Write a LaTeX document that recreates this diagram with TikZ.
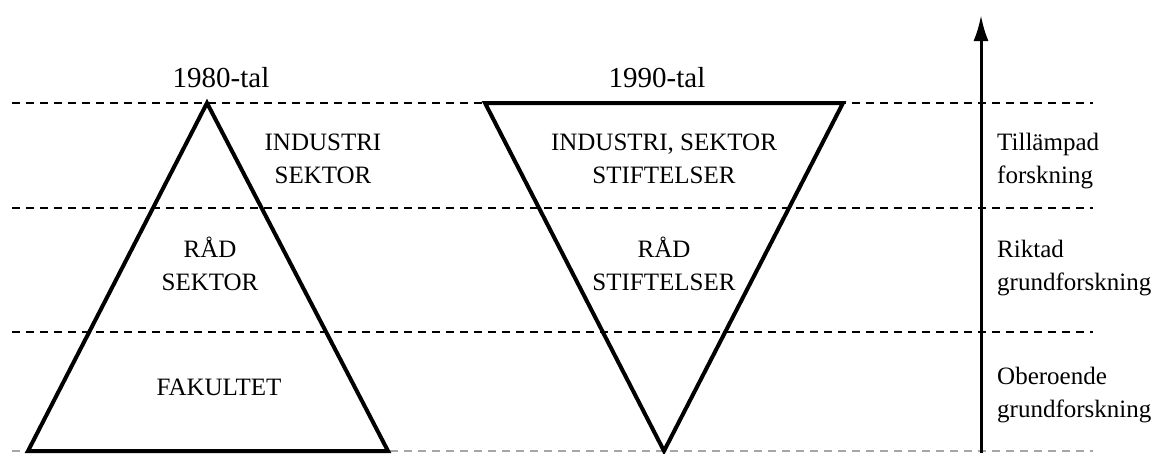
\documentclass[tikz,border=0pt]{standalone}
\usepackage{fontspec}
\setmainfont{Liberation Serif}
\usetikzlibrary{arrows.meta}
\tikzset{
  level/.style={dashed, line width=2pt, dash pattern=on 8pt off 6pt},
  baseline/.style={gray!70, line width=1.5pt, dash pattern=on 8pt off 6pt},
  tri/.style={line width=4pt, line join=miter},
  lbl/.style={font=\fontsize{25}{33}\selectfont, align=center, anchor=base, inner sep=0pt},
  rlbl/.style={font=\fontsize{25}{33}\selectfont, align=left, anchor=base west, inner sep=0pt},
  ttl/.style={font=\fontsize{29}{33}\selectfont, anchor=base, inner sep=0pt}
}
\begin{document}
\begin{tikzpicture}[x=1pt,y=-1pt]
\useasboundingbox (0,0) rectangle (1171,453);
% levels
\coordinate (l1a) at (12,103); \coordinate (l1b) at (1093,103);
\coordinate (l2a) at (12,208); \coordinate (l2b) at (1093,208);
\coordinate (l3a) at (12,332); \coordinate (l3b) at (1093,332);
\coordinate (l4a) at (12,451); \coordinate (l4b) at (1093,451);
\draw[level] (l1a) -- (l1b);
\draw[level] (l2a) -- (l2b);
\draw[level] (l3a) -- (l3b);
\draw[baseline] (l4a) -- (l4b);
% triangle 1980
\coordinate (a1) at (207,103);
\coordinate (b1) at (28,451);
\coordinate (c1) at (388,451);
\draw[tri] (a1) -- (b1) -- (c1) -- cycle;
% triangle 1990
\coordinate (a2) at (485,103);
\coordinate (b2) at (843,103);
\coordinate (c2) at (664,451);
\draw[tri] (a2) -- (b2) -- (c2) -- cycle;
% arrow
\coordinate (ar0) at (981,453);
\coordinate (ar1) at (981,15);
\draw[line width=3pt, -{Latex[length=26pt,width=15pt]}] (ar0) -- (ar1);
% titles
\node[ttl] (t80) at (221,87) {1980-tal};
\node[ttl] (t90) at (657,87) {1990-tal};
% labels 1980 (base anchor = last line)
\node[lbl] (ind1) at (323,183) {INDUSTRI\\SEKTOR};
\node[lbl] (rad1) at (210,290) {RÅD\\SEKTOR};
\node[lbl] (fak1) at (219,395) {FAKULTET};
% labels 1990
\node[lbl] (ind2) at (664,183) {INDUSTRI, SEKTOR\\STIFTELSER};
\node[lbl] (rad2) at (664,290) {RÅD\\STIFTELSER};
% right labels
\node[rlbl] (r1) at (997,183) {Tillämpad\\forskning};
\node[rlbl] (r2) at (997,290) {Riktad\\grundforskning};
\node[rlbl] (r3) at (997,417) {Oberoende\\grundforskning};
\end{tikzpicture}
\end{document}
